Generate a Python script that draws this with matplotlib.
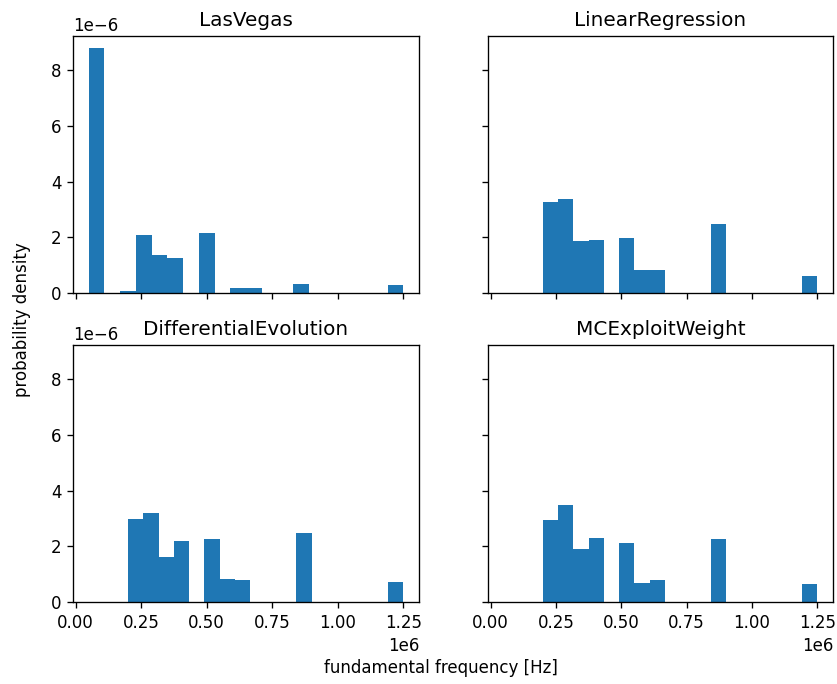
import numpy as np
import matplotlib
matplotlib.use("Agg")
import matplotlib.pyplot as plt

# bin edges (Hz)
edges_lv = np.linspace(0.05e6, 1.25e6, 21)
edges_other = np.linspace(0.2e6, 1.25e6, 19)

# densities, in units of 1e-6
lv_density = [8.79, 0.00, 0.06, 2.10, 1.37, 1.25, 0.00, 2.16, 0.00, 0.18,
              0.18, 0.00, 0.00, 0.32, 0.00, 0.00, 0.00, 0.00, 0.00, 0.29]
lr_density = [3.26, 3.39, 1.87, 1.89, 0.00, 1.96, 0.83, 0.83, 0.00,
              0.00, 0.00, 2.48, 0.00, 0.00, 0.00, 0.00, 0.00, 0.62]
de_density = [2.98, 3.21, 1.63, 2.18, 0.00, 2.28, 0.84, 0.80, 0.00,
              0.00, 0.00, 2.48, 0.00, 0.00, 0.00, 0.00, 0.00, 0.71]
mc_density = [2.93, 3.49, 1.90, 2.29, 0.00, 2.13, 0.67, 0.78, 0.00,
              0.00, 0.00, 2.28, 0.00, 0.00, 0.00, 0.00, 0.00, 0.66]

panels = [
    ("LasVegas", edges_lv, lv_density),
    ("LinearRegression", edges_other, lr_density),
    ("DifferentialEvolution", edges_other, de_density),
    ("MCExploitWeight", edges_other, mc_density),
]

W, H, dpi = 837, 684, 120
fig, axes = plt.subplots(2, 2, sharex=True, sharey=True,
                         figsize=(W / dpi, H / dpi), dpi=dpi)

# axes boxes in pixels: left, right, top, bottom
boxes = [(73, 419, 36, 293), (488, 833, 36, 293),
         (73, 419, 345, 602), (488, 833, 345, 602)]

for ax, (name, edges, dens), (l, r, t, b) in zip(axes.flat, panels, boxes):
    ax.set_position([l / W, 1 - b / H, (r - l) / W, (b - t) / H])
    dens = np.array(dens) * 1e-6
    ax.hist(edges[:-1], bins=edges, weights=dens, color="#1f77b4")
    ax.set_title(name, fontsize=12)

fig.text(441 / W, 1 - 668 / H, "fundamental frequency [Hz]",
         ha="center", va="center", fontsize=10)
fig.text(22 / W, 1 - 320 / H, "probability density",
         ha="center", va="center", rotation=90, fontsize=10)

fig.savefig("out.png", dpi=dpi)
